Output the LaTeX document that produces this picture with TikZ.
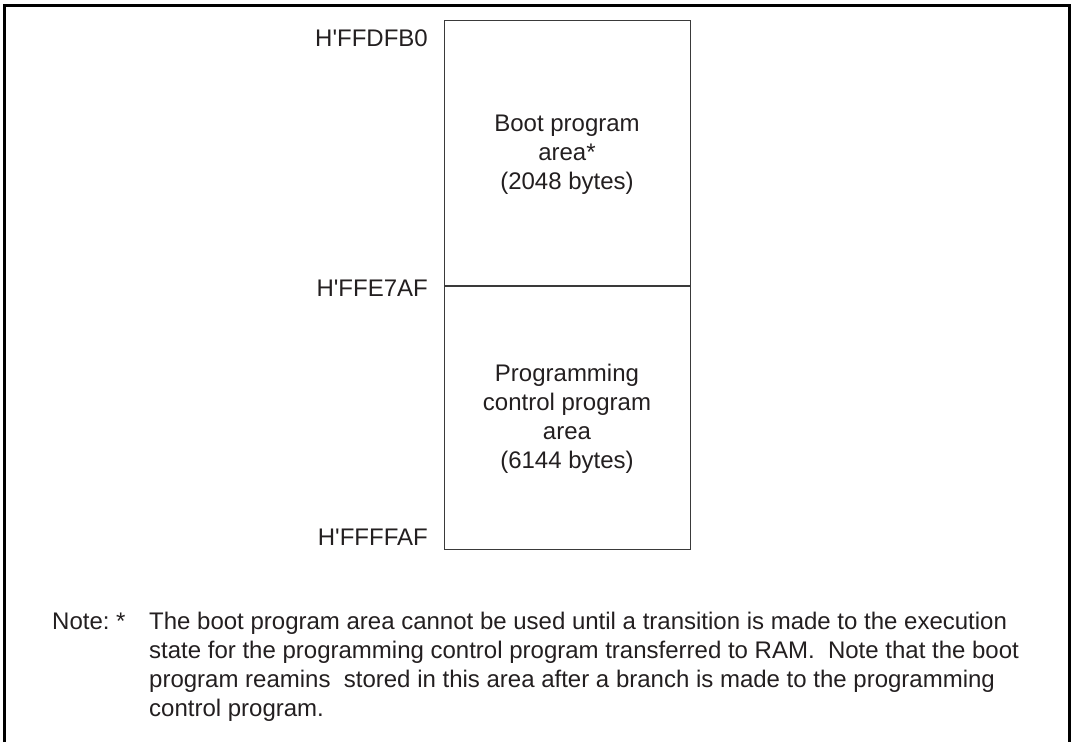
\documentclass[tikz,border=0pt]{standalone}
\usepackage{fontspec}
\setmainfont{Liberation Sans}[Ligatures=TeXOff]
\definecolor{ink}{HTML}{231F20}
\definecolor{boxline}{HTML}{3A3A3A}
\begin{document}
\begin{tikzpicture}[x=1pt,y=-1pt,
  txt/.style={inner sep=0pt, text=ink, font=\fontsize{24}{29}\selectfont},
  frame/.style={line width=3pt, draw=black},
  mem/.style={line width=1.2pt, draw=boxline, inner sep=0pt, anchor=north west, minimum width=246pt}]
\useasboundingbox (0,0) rectangle (1073,742);
% outer frame (open at the bottom)
\draw[frame] (4.7,742) -- (4.7,5) -- (1069.5,5) -- (1069.5,742);
% memory map boxes
\node[mem, minimum height=264.5pt] (boot) at (444,20) {};
\node[mem, minimum height=263.5pt] (prog) at (boot.south west) {};
% address labels
\node[txt, anchor=base east] (a1) at (428,46) {H'FFDFB0};
\node[txt, anchor=base east] (a2) at (428,296) {H'FFE7AF};
\node[txt, anchor=base east] (a3) at (428,545) {H'FFFFAF};
% boot area text
\node[txt, anchor=base] (b1) at (567,131) {Boot program};
\node[txt, anchor=base] (b2) at (567,160) {area*};
\node[txt, anchor=base] (b3) at (567,189) {(2048 bytes)};
% programming area text
\node[txt, anchor=base] (p1) at (567,381) {Programming};
\node[txt, anchor=base] (p2) at (567,410) {control program};
\node[txt, anchor=base] (p3) at (567,439) {area};
\node[txt, anchor=base] (p4) at (567,468) {(6144 bytes)};
% note
\node[txt, anchor=base west] (nl) at (52,629) {Note:};
\node[txt, anchor=base west] (ns) at (116,629) {*};
\node[txt, anchor=base west] (n1) at (149,629) {The boot program area cannot be used until a transition is made to the execution};
\node[txt, anchor=base west] (n2) at (149,658) {state for the programming control program transferred to RAM.\ \ Note that the boot};
\node[txt, anchor=base west] (n3) at (149,687) {program reamins\ \ stored in this area after a branch is made to the programming};
\node[txt, anchor=base west] (n4) at (149,716) {control program.};
\end{tikzpicture}
\end{document}
